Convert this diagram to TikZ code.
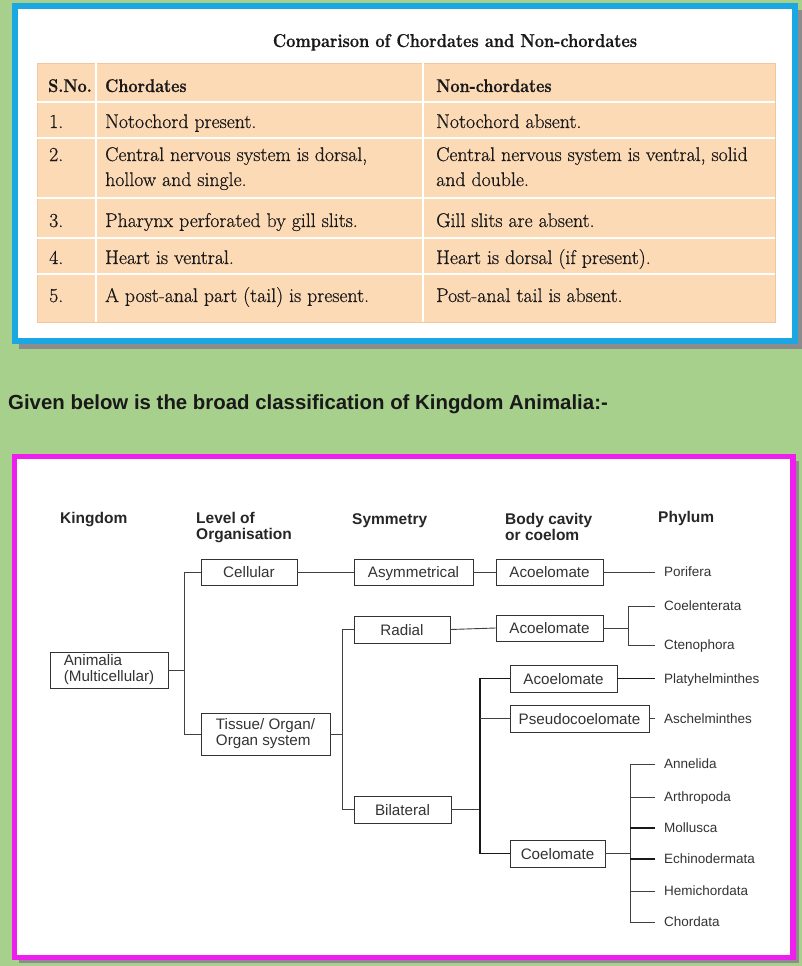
\documentclass[tikz,border=0pt]{standalone}
\usepackage{fontspec}
\setmainfont{Latin Modern Roman}
\newfontfamily\tabfont[FakeBold=0.6]{Latin Modern Roman}
\newfontfamily\headfont[BoldFeatures={FakeBold=0.7,FakeStretch=0.88}]{Latin Modern Roman}
\newfontfamily\arialf{Liberation Sans}
\definecolor{bggreen}{RGB}{168,208,141}
\definecolor{frameblue}{RGB}{27,168,226}
\definecolor{framemag}{RGB}{238,30,238}
\definecolor{peach}{RGB}{252,218,182}
\definecolor{peachedge}{RGB}{240,200,160}
\begin{document}
\begin{tikzpicture}[x=1pt,y=-1pt,
  tbody/.style={anchor=base west, inner sep=0pt, font=\tabfont\fontsize{19.8}{25}\selectfont, text=black!90},
  thead/.style={anchor=base west, inner sep=0pt, font=\headfont\bfseries\fontsize{18.4}{22}\selectfont, text=black!90},
  sbox/.style={draw=black!80, line width=0.9pt, fill=white, inner sep=0pt, text height=11pt, text depth=0pt, font=\arialf\fontsize{15.2}{16}\selectfont, text=black!80},
  mbox/.style={draw=black!80, line width=0.9pt, fill=white, inner sep=0pt, align=left, font=\arialf\fontsize{15.2}{16}\selectfont, text=black!80},
  colhead/.style={anchor=north west, inner sep=0pt, align=left, font=\arialf\bfseries\fontsize{15.5}{16}\selectfont, text=black!85},
  phyl/.style={anchor=west, inner xsep=9pt, inner ysep=0pt, text height=9.7pt, text depth=0pt, font=\arialf\fontsize{13.5}{14}\selectfont, text=black!80},
  conn/.style={draw=black!75, line width=0.9pt},
  thick conn/.style={draw=black!90, line width=1.4pt},
]
\useasboundingbox (0,0) rectangle (802,966);
\fill[bggreen] (0,0) rectangle (802,966);

% ---------- top frame ----------
\fill[black!45] (19,10) rectangle (802,349);
\fill[white] (15,6) rectangle (795,341);
\draw[frameblue, line width=6pt] (15,6) rectangle (795,341);

\node[anchor=base, inner sep=0pt, font=\headfont\bfseries\fontsize{18.6}{22}\selectfont, text=black!90] (title) at (455,47) {Comparison of Chordates and Non-chordates};

\fill[peach] (37,63) rectangle (775,322);
\draw[peachedge, line width=0.6pt] (37,63) rectangle (775,322);
\foreach \yy in {102,138,198,238,274} \draw[white, line width=2.5pt] (37,\yy) -- (775,\yy);
\foreach \xx in {96,423} \draw[white, line width=2pt] (\xx,63) -- (\xx,322);

\node[thead] (hsno) at (48,92) {S.No.};
\node[thead] (hch) at (105,92) {Chordates};
\node[thead] (hnch) at (436,92) {Non-chordates};

\node[tbody] (n1) at (49,128) {1.};
\node[tbody] (c1) at (105,128) {Notochord present.};
\node[tbody] (d1) at (436,128) {Notochord absent.};

\node[tbody] (n2) at (49,161) {2.};
\node[tbody] (c2) at (105,161) {Central nervous system is dorsal,};
\node[tbody] (c2b) at (105,186) {hollow and single.};
\node[tbody] (d2) at (436,161) {Central nervous system is ventral, solid};
\node[tbody] (d2b) at (436,186) {and double.};

\node[tbody] (n3) at (49,227) {3.};
\node[tbody] (c3) at (105,227) {Pharynx perforated by gill slits.};
\node[tbody] (d3) at (436,227) {Gill slits are absent.};

\node[tbody] (n4) at (49,264) {4.};
\node[tbody] (c4) at (105,264) {Heart is ventral.};
\node[tbody] (d4) at (436,264) {Heart is dorsal (if present).};

\node[tbody] (n5) at (49,302) {5.};
\node[tbody] (c5) at (105,302) {A post-anal part (tail) is present.};
\node[tbody] (d5) at (436,302) {Post-anal tail is absent.};

% ---------- caption ----------
\node[anchor=base west, inner sep=0pt, font=\arialf\bfseries\fontsize{20.4}{24}\selectfont, text=black!90] (caption) at (8,409) {Given below is the broad classification of Kingdom Animalia:-};

% ---------- bottom frame ----------
\fill[black!45] (19,461) rectangle (799,963);
\fill[white] (14.5,456.5) rectangle (793,957.5);
\draw[framemag, line width=5.5pt] (14.5,456.5) rectangle (793,957.5);

% column headings
\node[colhead] (hk) at (60,511.7) {Kingdom};
\node[colhead] (hl) at (196,511.7) {Level of\\Organisation};
\node[colhead] (hs) at (352,513.7) {Symmetry};
\node[colhead] (hb) at (505,512.7) {Body cavity\\or coelom};
\node[colhead] (hp) at (658,510.7) {Phylum};

% boxes
\node[sbox, minimum width=96pt, minimum height=26pt] (cell) at (249,572) {Cellular};
\node[mbox, minimum width=118pt, minimum height=36pt] (anim) at (109,670) {Animalia\\(Multicellular)};
\node[mbox, minimum width=129pt, minimum height=42pt] (tiss) at (265.5,734) {Tissue/ Organ/\\Organ system};
\node[sbox, minimum width=119pt, minimum height=26pt] (asym) at (413.5,572) {Asymmetrical};
\node[sbox, minimum width=96pt, minimum height=27pt] (rad) at (402,629.5) {Radial};
\node[sbox, minimum width=97pt, minimum height=27pt] (bil) at (402.5,809.5) {Bilateral};
\node[sbox, minimum width=107pt, minimum height=26pt] (acA) at (549.5,572) {Acoelomate};
\node[sbox, minimum width=107pt, minimum height=26pt] (acB) at (549.5,628) {Acoelomate};
\node[sbox, minimum width=107pt, minimum height=27pt] (acC) at (563.5,678.5) {Acoelomate};
\node[sbox, minimum width=139pt, minimum height=27pt] (pseudo) at (579.5,718.5) {Pseudocoelomate};
\node[sbox, minimum width=95pt, minimum height=27pt] (coel) at (557.5,853.5) {Coelomate};

% phyla
\node[phyl] (porif) at (655,572) {Porifera};
\node[phyl] (coelent) at (655,606) {Coelenterata};
\node[phyl] (cteno) at (655,645) {Ctenophora};
\node[phyl] (platy) at (655,678.5) {Platyhelminthes};
\node[phyl] (asch) at (655,718.5) {Aschelminthes};
\node[phyl] (annel) at (655,764) {Annelida};
\node[phyl] (arthro) at (655,797) {Arthropoda};
\node[phyl] (mollu) at (655,828) {Mollusca};
\node[phyl] (echino) at (655,859) {Echinodermata};
\node[phyl] (hemi) at (655,891) {Hemichordata};
\node[phyl] (chord) at (655,922) {Chordata};

% junction columns
\coordinate (av) at (184,0);
\coordinate (tv) at (342,0);
\coordinate (bv) at (480,0);
\coordinate (rv) at (628,0);
\coordinate (cv) at (630,0);

% connectors
\draw[conn] (anim.east) -- (anim.east -| av);
\draw[conn] (cell.west) -| (av |- tiss.west) -- (tiss.west);
\draw[conn] (cell.east) -- (asym.west);
\draw[conn] (asym.east) -- (acA.west);
\draw[conn] (acA.east) -- (porif.west);

\draw[conn] (tiss.east) -- (tiss.east -| tv);
\draw[conn] (rad.west) -| (tv |- bil.west) -- (bil.west);
\draw[conn] (rad.east) -- (acB.west);
\draw[conn] (acB.east) -- (acB.east -| rv);
\draw[conn] (coelent.west) -| (rv |- cteno.west) -- (cteno.west);

\draw[conn] (bil.east) -- (bil.east -| bv);
\draw[thick conn] (acC.west) -| (bv |- coel.west) -- (coel.west);
\draw[conn] (pseudo.west) -- (pseudo.west -| bv);
\draw[thick conn] (acC.east) -- (platy.west);
\draw[conn] (pseudo.east) -- (asch.west);

\draw[conn] (coel.east) -- (coel.east -| cv);
\draw[conn] (annel.west) -| (cv |- chord.west) -- (chord.west);
\draw[conn] (arthro.west) -- (arthro.west -| cv);
\draw[thick conn] (mollu.west) -- (mollu.west -| cv);
\draw[thick conn] (echino.west) -- (echino.west -| cv);
\draw[conn] (hemi.west) -- (hemi.west -| cv);
\end{tikzpicture}
\end{document}
